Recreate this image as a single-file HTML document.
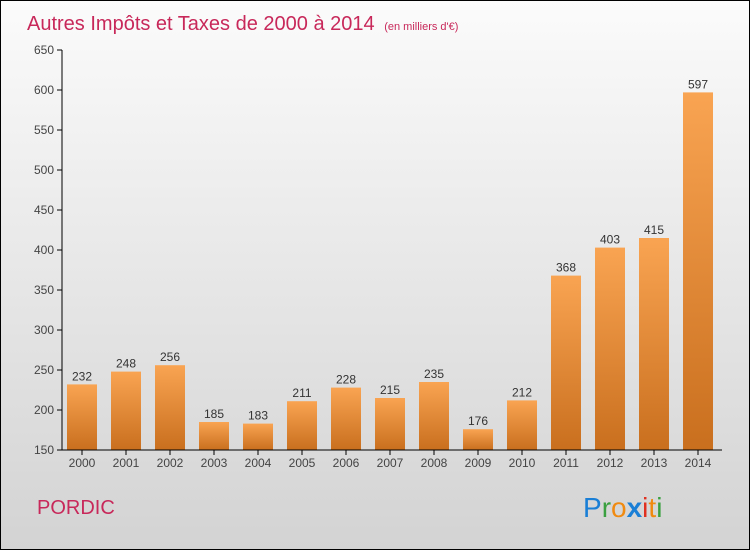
<!DOCTYPE html>
<html><head><meta charset="utf-8"><style>
body{margin:0}
#wrap{position:relative;width:748px;height:548px;border:1px solid #000;background:linear-gradient(#fbfbfb,#d3d3d3);font-family:"Liberation Sans",sans-serif;overflow:hidden}
</style></head><body>
<div id="wrap">
<svg width="748" height="548" id="svg">
<defs><linearGradient id="bg" x1="0" y1="0" x2="0" y2="1"><stop offset="0" stop-color="#f9a452"/><stop offset="1" stop-color="#c96f1e"/></linearGradient></defs>
<text x="26" y="29" font-size="20" fill="#c8285a">Autres Impôts et Taxes de 2000 à 2014 <tspan font-size="11" dx="4">(en milliers d'€)</tspan></text>
<text x="36" y="513" font-size="20" fill="#c8285a">PORDIC</text>
<g font-size="28" font-family="'Liberation Sans',sans-serif">
<text x="582" y="516"><tspan fill="#1a7fd6">P</tspan><tspan fill="#3aa040">r</tspan><tspan fill="#f08a10">o</tspan><tspan fill="#1a7fd6" font-weight="bold">x</tspan><tspan fill="#e03020">i</tspan><tspan fill="#f08a10">t</tspan><tspan fill="#3aa040">i</tspan></text></g>
<g id="g"></g>
</svg>
</div>
<script>
const years=["2000","2001","2002","2003","2004","2005","2006","2007","2008","2009","2010","2011","2012","2013","2014"];
const values=[232,248,256,185,183,211,228,215,235,176,212,368,403,415,597];
const ticks=[150,200,250,300,350,400,450,500,550,600,650];
const g=document.getElementById('g'),NS="http://www.w3.org/2000/svg";
const y=v=>449-(v-150)*0.8, x=i=>81+i*44;
function el(t,a){const e=document.createElementNS(NS,t);for(const k in a)e.setAttribute(k,a[k]);g.appendChild(e);return e;}
ticks.forEach(t=>{
 const l=el('line',{x1:56,x2:61,y1:y(t),y2:y(t),stroke:'#000'});
 
 
 const tx=el('text',{x:53,y:y(t)+4,'text-anchor':'end','font-size':12,fill:'#444'});tx.textContent=t;
 
 
});
years.forEach((yr,i)=>{
 const v=values[i];
 const r=el('rect',{x:x(i)-15,y:y(v),width:30,height:y(150)-y(v),fill:'url(#bg)'});
 
 
 const lb=el('text',{x:x(i),y:y(v)-4,'text-anchor':'middle','font-size':12,fill:'#333'});lb.textContent=v;
 
 
 const tk=el('line',{x1:x(i),x2:x(i),y1:449,y2:454,stroke:'#000'});
 
 
 const xl=el('text',{x:x(i),y:466,'text-anchor':'middle','font-size':12,fill:'#444'});xl.textContent=yr;
 
 
});
const ya=el('line',{x1:61,x2:61,y1:y(650),y2:449,stroke:'#000'});


const xa=el('line',{x1:61,x2:721,y1:449,y2:449,stroke:'#000'});


</script>
</body></html>
